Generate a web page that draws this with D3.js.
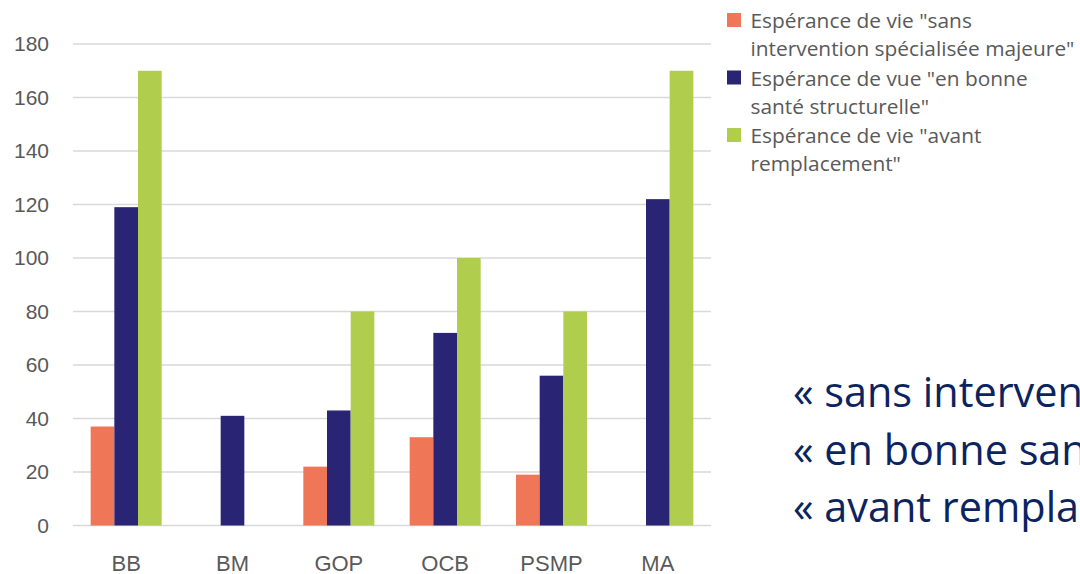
<!DOCTYPE html>
<html>
<head>
<meta charset="utf-8">
<script src="https://cdn.jsdelivr.net/npm/d3@7"></script>
<style>
	body { margin: 0; background: #fff; overflow: hidden; }
	svg { display: block; }
</style>
</head>
<body>
<svg width="1080" height="574"></svg>
<script>
// data
var categories = ['BB', 'BM', 'GOP', 'OCB', 'PSMP', 'MA'];
var sansIntervention = [37, null, 22, 33, 19, null];
var bonneSante = [119, 41, 43, 72, 56, 122];
var avantRemplacement = [170, null, 80, 100, 80, 170];
var yTicks = [0, 20, 40, 60, 80, 100, 120, 140, 160, 180];
var legendLines = [
	['Espérance de vie "sans', 'intervention spécialisée majeure"'],
	['Espérance de vue "en bonne', 'santé structurelle"'],
	['Espérance de vie "avant', 'remplacement"']
];
var noteLines = [
	'« sans intervention spécialisée majeure »',
	'« en bonne santé structurelle »',
	'« avant remplacement »'
];
var colors = ['#EF7657', '#2A2474', '#B0CD4E'];

var series = [sansIntervention, bonneSante, avantRemplacement];

var svg = d3.select('svg');
var plot = {left: 73, right: 711, top: 44, bottom: 525.5};
var legendFont = '"Open Sans", "Noto Sans", sans-serif';
var axisFont = '"Liberation Sans", Arial, sans-serif';

// font size so that `sample` is `target` px wide
function fitSize(sample, family, target) {
	var t = svg.append('text')
		.style('font-family', family)
		.style('font-size', '100px')
		.text(sample);
	var w = t.node().getComputedTextLength();
	t.remove();
	return 100 * target / w;
}

var x = d3.scaleBand().domain(categories).range([plot.left, plot.right]);
var groupW = 71;
var xSub = d3.scaleBand().domain([0, 1, 2]).range([0, groupW]);
var groupOffset = (x.bandwidth() - groupW) / 2;
var y = d3.scaleLinear().domain([0, 180]).range([plot.bottom, plot.top]);

// grid
svg.append('g').selectAll('line')
	.data(yTicks)
	.join('line')
	.attr('x1', plot.left)
	.attr('x2', plot.right)
	.attr('y1', function(d) { return y(d); })
	.attr('y2', function(d) { return y(d); })
	.style('stroke', '#d9d9d9')
	.style('stroke-width', '1.5px');

// y axis labels
var yAxis = d3.axisLeft(y).tickValues(yTicks).tickSize(0).tickPadding(24);
var gy = svg.append('g').attr('transform', 'translate(' + plot.left + ',0)').call(yAxis);
gy.select('.domain').remove();
gy.selectAll('text')
	.style('font-family', axisFont)
	.style('font-size', '21px')
	.style('fill', '#595959');

// x axis labels
var xAxis = d3.axisBottom(x).tickSize(0).tickPadding(30);
var gx = svg.append('g').attr('transform', 'translate(0,' + plot.bottom + ')').call(xAxis);
gx.select('.domain').remove();
gx.selectAll('text')
	.style('font-family', axisFont)
	.style('font-size', '22px')
	.style('fill', '#595959');

// bars
series.forEach(function(values, si) {
	svg.append('g').selectAll('rect')
		.data(values.map(function(v, i) { return {cat: categories[i], v: v}; })
			.filter(function(d) { return d.v != null; }))
		.join('rect')
		.attr('x', function(d) { return x(d.cat) + groupOffset + xSub(si); })
		.attr('y', function(d) { return y(d.v); })
		.attr('width', xSub.bandwidth())
		.attr('height', function(d) { return y(0) - y(d.v); })
		.style('fill', colors[si]);
});

// legend
var legendSize = fitSize('intervention spécialisée majeure"', legendFont, 324);
var legend = svg.append('g').attr('transform', 'translate(727,0)');
legendLines.forEach(function(lines, i) {
	var top = 13 + i * 57.5;
	legend.append('rect')
		.attr('x', 0)
		.attr('y', top)
		.attr('width', 14)
		.attr('height', 14)
		.style('fill', colors[i]);
	lines.forEach(function(t, j) {
		legend.append('text')
			.attr('x', 23.5)
			.attr('y', top + 15 + j * 28)
			.text(t)
			.style('font-family', legendFont)
			.style('font-size', legendSize + 'px')
			.style('fill', '#595959');
	});
});

// note text on the right, runs off the edge like the original slide
var noteSize = fitSize('« sans interven', legendFont, 290);
svg.append('g').selectAll('text')
	.data(noteLines)
	.join('text')
	.attr('x', 793)
	.attr('y', function(d, i) { return 407 + i * 57.5; })
	.text(function(d) { return d; })
	.style('font-family', legendFont)
	.style('font-size', noteSize + 'px')
	.style('fill', '#0B2461');
</script>
</body>
</html>
